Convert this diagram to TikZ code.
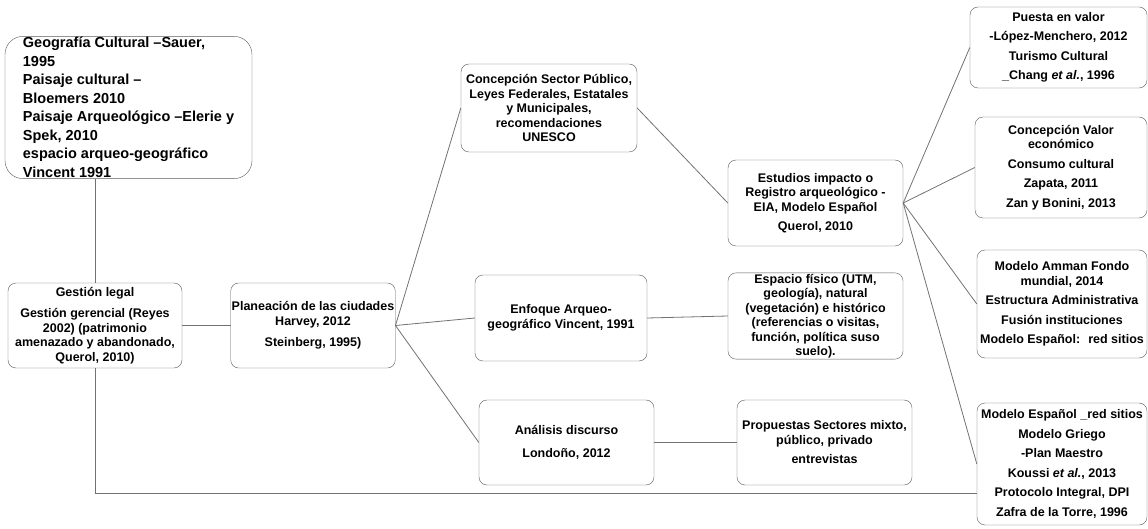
\documentclass[tikz,border=0pt]{standalone}
\usepackage{fontspec}
\setmainfont{Liberation Sans}
\definecolor{gris}{HTML}{595959}
\tikzset{
  caja/.style = {draw=gris, rounded corners=8pt, align=center, inner sep=1pt,
    font=\fontsize{12.5}{14.5}\selectfont\bfseries},% caja normal
  caja_g/.style = {caja, rounded corners=18pt, align=left,
    font=\fontsize{14.5}{18.5}\selectfont\bfseries},% caja grande, texto a la izquierda
  enlace/.style = {draw=gris!85, line width=0.8pt}% linea entre cajas
}

\begin{document}
\begin{tikzpicture}[x=1pt,y=-1pt]
\useasboundingbox (0,0) rectangle (1148,529);

% columna 1
\node [caja_g, minimum width=247pt, minimum height=141pt] (geo) at (128.5,107.5)
  {Geografía Cultural –Sauer,\\ 1995\\ Paisaje cultural –\\ Bloemers 2010\\
   Paisaje Arqueológico –Elerie y\\ Spek, 2010\\ espacio arqueo-geográfico\\ Vincent 1991};
\node [caja, minimum width=174pt, minimum height=85pt] (legal) at (95,325.5)
  {Gestión legal\\[7pt] Gestión gerencial (Reyes\\ 2002) (patrimonio\\ amenazado y abandonado,\\ Querol, 2010)};

% columna 2
\node [caja, minimum width=160pt, minimum height=85pt] (plan) at (313,325.5)
  {Planeación de las ciudades\\ Harvey, 2012\\[7pt] Steinberg, 1995)};

% columna 3
\node [caja, minimum width=176pt, minimum height=88pt] (sector) at (549,108)
  {Concepción Sector Público,\\ Leyes Federales, Estatales\\ y Municipales,\\ recomendaciones\\ UNESCO};
\node [caja, minimum width=172pt, minimum height=86pt] (enfoque) at (561,318)
  {Enfoque Arqueo-\\ geográfico Vincent, 1991};
\node [caja, minimum width=175pt, minimum height=85pt] (analisis) at (566.5,442.5)
  {Análisis discurso\\[8pt] Londoño, 2012};

% columna 4
\node [caja, minimum width=175pt, minimum height=86pt] (estudios) at (815.5,203)
  {Estudios impacto o\\ Registro arqueológico -\\ EIA, Modelo Español\\[5pt] Querol, 2010};
\node [caja, minimum width=175pt, minimum height=84pt] (espacio) at (815.5,316)
  {Espacio físico (UTM,\\ geología), natural\\ (vegetación) e histórico\\ (referencias o visitas,\\ función, política suso\\ suelo).};
\node [caja, minimum width=175pt, minimum height=85pt] (propuestas) at (824.5,442.5)
  {Propuestas Sectores mixto,\\ público, privado\\[5pt] entrevistas};

% columna 5
\node [caja, minimum width=177pt, minimum height=81pt] (puesta) at (1058.5,47.5)
  {Puesta en valor\\[5pt] -López-Menchero, 2012\\[5pt] Turismo Cultural\\[5pt] \_Chang \textit{et al.}, 1996};
\node [caja, minimum width=172pt, minimum height=101pt] (valor) at (1061,167.5)
  {Concepción Valor\\ económico\\[5pt] Consumo cultural\\[5pt] Zapata, 2011\\[5pt] Zan y Bonini, 2013};
\node [caja, minimum width=170pt, minimum height=108pt] (amman) at (1062,304)
  {Modelo Amman Fondo\\ mundial, 2014\\[5pt] Estructura Administrativa\\[5pt] Fusión instituciones\\[5pt] Modelo Español:~ red sitios};
\node [caja, minimum width=170pt, minimum height=122pt] (espanol) at (1062,464)
  {Modelo Español \_red sitios\\[5pt] Modelo Griego\\[5pt] -Plan Maestro\\[5pt] Koussi \textit{et al.}, 2013\\[5pt]
   Protocolo Integral, DPI\\[5pt] Zafra de la Torre, 1996};

% enlaces
\draw [enlace] (legal.north) -- (legal.north |- geo.south);
\draw [enlace] (legal.south) |- ([yshift=-29pt]espanol.west);
\draw [enlace] (legal.east) -- (plan.west);
\draw [enlace] (plan.east) -- (sector.west);
\draw [enlace] (plan.east) -- (enfoque.west);
\draw [enlace] (plan.east) -- (analisis.west);
\draw [enlace] (sector.east) -- (estudios.west);
\draw [enlace] (enfoque.east) -- (espacio.west);
\draw [enlace] (analisis.east) -- (propuestas.west);
\draw [enlace] (estudios.east) -- (puesta.west);
\draw [enlace] (estudios.east) -- (valor.west);
\draw [enlace] (estudios.east) -- (amman.west);
\draw [enlace] (estudios.east) -- (espanol.west);
\end{tikzpicture}
\end{document}
